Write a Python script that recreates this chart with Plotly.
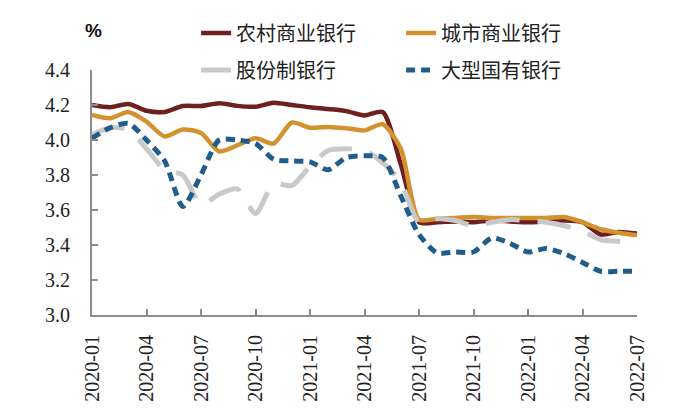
import plotly.graph_objects as go

months = [f"{y}-{m:02d}" for y in (2020, 2021, 2022) for m in range(1, 13)][:31]
tick_months = months[::3]

rural = [4.20, 4.187, 4.206, 4.167, 4.16, 4.194, 4.194, 4.21, 4.195, 4.19, 4.213, 4.20,
         4.187, 4.177, 4.165, 4.14, 4.16, 3.86, 3.53, 3.53, 3.535, 3.53, 3.54, 3.535,
         3.53, 3.535, 3.54, 3.53, 3.46, 3.475, 3.465]
city = [4.143, 4.124, 4.16, 4.105, 4.02, 4.06, 4.04, 3.935, 3.97, 4.01, 3.98, 4.10,
        4.07, 4.075, 4.067, 4.055, 4.09, 3.95, 3.545, 3.55, 3.555, 3.56, 3.555, 3.555,
        3.555, 3.555, 3.56, 3.53, 3.49, 3.47, 3.455]
joint = [4.03, 4.07, 4.06, 3.95, 3.83, 3.80, 3.63, 3.69, 3.72, 3.58, 3.75, 3.74,
         3.85, 3.94, 3.95, 3.94, 3.87, 3.76, 3.53, 3.55, 3.54, 3.51, 3.53, 3.545,
         3.54, 3.53, 3.51, 3.48, 3.43, 3.42, 3.40]
state = [4.01, 4.07, 4.095, 4.00, 3.88, 3.62, 3.80, 4.00, 4.00, 3.98, 3.89, 3.88,
         3.875, 3.83, 3.90, 3.91, 3.90, 3.68, 3.46, 3.355, 3.36, 3.36, 3.44, 3.41,
         3.36, 3.38, 3.35, 3.30, 3.25, 3.25, 3.25]

series = [
    ("农村商业银行", rural, "#6E1F1F", "solid", 4.5, "legend"),
    ("城市商业银行", city, "#D4922E", "solid", 4.5, "legend"),
    ("股份制银行", joint, "#C9C9C9", "34px,18px", 5, "legend2"),
    ("大型国有银行", state, "#215D8A", "9px,6px", 5, "legend2"),
]

fig = go.Figure()
for name, vals, color, dash, w, lg in series:
    fig.add_trace(go.Scatter(
        x=months, y=vals, name=name, mode="lines",
        line=dict(color=color, width=w, dash=dash, shape="spline", smoothing=0.7),
        legend=lg,
    ))

axis_color = "#8c8c8c"
tick_font = dict(family="Liberation Serif", size=20, color="#222222")
legend_font = dict(family="Noto Sans CJK SC", size=20, color="#222222")
fig.update_layout(
    width=700, height=418,
    margin=dict(l=92, r=63, t=70, b=103, autoexpand=False),
    paper_bgcolor="white", plot_bgcolor="white",
    xaxis=dict(
        type="category", range=[0, 30], tickvals=tick_months, ticktext=tick_months,
        tickangle=-90, ticks="inside", ticklen=6, tickcolor=axis_color, tickwidth=1.5,
        showline=True, linecolor=axis_color, linewidth=2, showgrid=False,
        tickfont=tick_font, ticklabelstandoff=10, automargin=False,
    ),
    yaxis=dict(
        range=[3.0, 4.4], dtick=0.2, tick0=3.0, tickformat=".1f",
        ticks="inside", ticklen=6, tickcolor=axis_color, tickwidth=1.5,
        showline=True, linecolor=axis_color, linewidth=2, showgrid=False, zeroline=False,
        tickfont=tick_font, ticklabelstandoff=16, automargin=False,
    ),
    legend=dict(
        orientation="h", x=0.191, xanchor="left", y=1.151, yanchor="middle",
        font=legend_font, entrywidth=160, entrywidthmode="pixels",
        bgcolor="rgba(0,0,0,0)",
    ),
    legend2=dict(
        orientation="h", x=0.191, xanchor="left", y=1.0, yanchor="middle",
        font=legend_font, entrywidth=160, entrywidthmode="pixels",
        bgcolor="rgba(0,0,0,0)",
    ),
    showlegend=True,
    annotations=[dict(
        text="<b>%</b>", xref="paper", yref="paper", x=0.002, y=1.163,
        xanchor="center", yanchor="middle", showarrow=False,
        font=dict(family="Liberation Sans", size=19, color="#111111"),
    )],
)

fig.write_html("out.html")
